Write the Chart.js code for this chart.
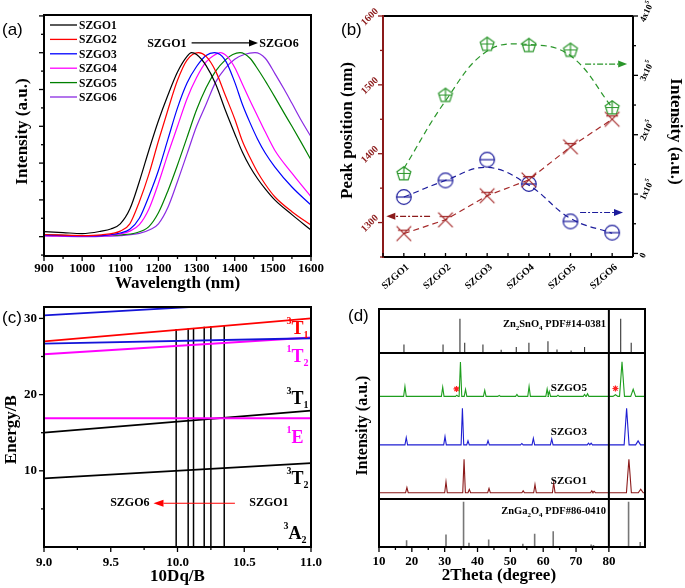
<!DOCTYPE html>
<html><head><meta charset="utf-8">
<script src="https://cdn.jsdelivr.net/npm/chart.js@4.4.1/dist/chart.umd.min.js"></script>
<style>
html,body{margin:0;padding:0;background:#fff;}
#wrap{position:relative;width:685px;height:588px;overflow:hidden;background:#fff;}
canvas{position:absolute;}
</style></head><body>
<div id="wrap">
<canvas id="cA" width="340" height="300" style="left:0px;top:0px"></canvas>
<canvas id="cB" width="345" height="300" style="left:340px;top:0px"></canvas>
<canvas id="cC" width="340" height="298" style="left:0px;top:290px"></canvas>
<canvas id="cD" width="345" height="298" style="left:340px;top:290px"></canvas>
</div>
<script>
// ================= DATA =================
const samples = ['SZGO1','SZGO2','SZGO3','SZGO4','SZGO5','SZGO6'];

// (a) normalized NIR emission spectra
const wlSZGO1 = [900,950,1000,1050,1075,1100,1125,1150,1175,1200,1225,1250,1275,1287,1300,1325,1350,1375,1400,1420,1440,1460,1480,1505,1550,1600];
const inSZGO1 = [0.027,0.022,0.017,0.03,0.042,0.07,0.15,0.30,0.47,0.63,0.77,0.895,0.98,1.0,0.99,0.93,0.83,0.69,0.56,0.46,0.38,0.315,0.26,0.20,0.12,0.036];
const wlSZGO2 = [900,1000,1050,1100,1125,1150,1175,1200,1225,1250,1275,1305,1325,1350,1375,1400,1420,1440,1460,1480,1505,1550,1600];
const inSZGO2 = [0.012,0.006,0.01,0.03,0.07,0.19,0.34,0.52,0.69,0.85,0.96,1.0,0.98,0.90,0.77,0.64,0.52,0.43,0.35,0.285,0.217,0.136,0.063];
const wlSZGO3 = [900,1000,1050,1100,1125,1150,1175,1200,1225,1250,1275,1300,1325,1347,1375,1400,1420,1440,1460,1480,1505,1550,1600];
const inSZGO3 = [0.01,0.004,0.006,0.02,0.04,0.10,0.22,0.36,0.53,0.70,0.835,0.925,0.985,1.0,0.96,0.84,0.72,0.62,0.53,0.455,0.38,0.27,0.172];
const wlSZGO4 = [900,1000,1050,1100,1125,1150,1175,1200,1225,1250,1275,1300,1325,1345,1362,1380,1400,1420,1440,1460,1480,1505,1550,1600];
const inSZGO4 = [0.006,0.002,0.004,0.015,0.03,0.065,0.15,0.29,0.45,0.60,0.75,0.865,0.95,0.985,1.0,0.98,0.92,0.83,0.74,0.655,0.57,0.47,0.345,0.217];
const wlSZGO5 = [900,1000,1050,1100,1140,1175,1200,1225,1250,1275,1300,1325,1350,1375,1395,1414,1440,1462,1485,1505,1530,1550,1575,1600];
const inSZGO5 = [0.012,0.005,0.006,0.01,0.02,0.055,0.13,0.25,0.39,0.54,0.69,0.81,0.90,0.96,0.99,1.0,0.97,0.906,0.83,0.76,0.67,0.60,0.51,0.417];
const wlSZGO6 = [900,1000,1050,1100,1150,1180,1200,1225,1250,1275,1300,1325,1350,1375,1400,1425,1453,1480,1505,1530,1550,1575,1600];
const inSZGO6 = [0.004,0.0,0.002,0.006,0.018,0.04,0.07,0.16,0.30,0.45,0.60,0.72,0.84,0.915,0.965,0.99,1.0,0.97,0.888,0.80,0.725,0.63,0.543];
const waveTicks = [900,1000,1100,1200,1300,1400,1500,1600];

// (b) peak position and intensities
const peakPosition = [1284,1304,1339,1362,1410,1450];
const intensityPent = [1.34e5,2.66e5,3.52e5,3.50e5,3.42e5,2.45e5];
const intensityPentFit = [1.43e5,2.57e5,3.41e5,3.52e5,3.33e5,2.46e5];
const intensityCirc = [0.95e5,1.23e5,1.58e5,1.17e5,0.54e5,0.35e5];
const intensityCircFit = [0.95e5,1.23e5,1.45e5,1.15e5,0.59e5,0.34e5];
const peakTicks = [1300,1400,1500,1600];
const intensityTicks = [0,1e5,2e5,3e5,4e5];

// (c) Tanabe-Sugano diagram
const dqRange = [9.0,11.0];
const lvlBlueTop = [30.4,32.4];
const lvl3T1a = [27.0,30.0];
const lvlBlueMid = [26.7,27.4];
const lvl1T2 = [25.3,27.5];
const lvl1E = [16.9,16.9];
const lvl3T1 = [15.0,17.9];
const lvl3T2 = [9.0,11.0];
const sampleDq = [9.99,10.08,10.12,10.20,10.25,10.35];
const sampleDqTop = [28.6,28.7,28.75,28.9,29.0,29.1];
const dqTicks = [9.0,9.5,10.0,10.5,11.0];
const energyTicks = [10,20,30];

// (d) XRD
const thetaTicks = [10,20,30,40,50,60,70,80];
const zsoPos = [17.6,29.5,34.65,36.1,41.65,47.2,51.8,55.65,61.45,64.2,68.5,72.6,83.6,86.8];
const zsoHt  = [3.6,3.6,14.4,4.3,3.6,1.4,2.5,4.3,5.0,1.5,1.1,2.5,14.4,4.3];
const zgoPos = [18.4,30.4,35.75,37.4,43.4,53.8,57.4,63.05,74.6,75.3,86.0,89.55];
const zgoHt  = [2.8,5.2,19.0,1.8,3.2,1.4,5.6,6.6,1.1,0.8,19.0,2.1];
const s5Pos = [17.9,29.4,33.7,34.8,36.35,42.2,46.6,52.0,55.7,61.2,61.85,64.5,72.6,73.5,82.0,84.0,87.4];
const s5Ht  = [4.2,3.9,0.5,14.4,2.9,2.5,0.4,0.8,4.2,3.1,2.1,0.5,0.8,1.1,0.7,14.5,3.0];
const s3Pos = [18.3,30.1,35.4,37.1,43.2,53.5,57.0,62.6,73.8,74.6,85.4,88.9];
const s3Ht  = [3.1,3.5,15.4,1.7,1.8,0.6,2.8,2.5,0.7,0.7,15.4,1.7];
const s1Pos = [18.5,30.4,35.9,37.5,43.5,53.9,57.5,63.2,74.8,75.5,86.1,89.7];
const s1Ht  = [2.2,4.6,14.1,1.4,1.8,0.8,3.5,4.2,0.8,0.6,14.1,1.5];
const traceBase = [63.3,42.9,22.8];      // SZGO5, SZGO3, SZGO1 offsets
const refBase = [81.5,0];                // Zn2SnO4 top box, ZnGa2O4 bottom box
const impurityPos = [33.6,82.0];
const impurityY = [66.4,66.6];

// ================= HELPERS =================
const SERIF='"Liberation Serif","Times New Roman",serif';
const SANS='"Liberation Sans",Arial,sans-serif';
const F=(s,b=true,fam=SERIF)=>(b?'bold ':'')+s+'px '+fam;
function T(c,s,x,y,font,color='#000',align='center',base='middle',rot=0){c.save();c.translate(x,y);if(rot)c.rotate(rot);c.font=font;c.fillStyle=color;c.textAlign=align;c.textBaseline=base;c.fillText(s,0,0);c.restore();}
function L(c,x1,y1,x2,y2,color='#000',w=1,dash=[]){c.save();c.strokeStyle=color;c.lineWidth=w;c.setLineDash(dash);c.beginPath();c.moveTo(x1,y1);c.lineTo(x2,y2);c.stroke();c.restore();}
function frame(c,a,w=2,col='#000'){c.save();c.strokeStyle=col;c.lineWidth=w;c.strokeRect(a.left,a.top,a.right-a.left,a.bottom-a.top);c.restore();}
function xTicks(c,sc,yb,vals,len,col='#000',w=1.3){vals.forEach(v=>{const x=sc.getPixelForValue(v);L(c,x,yb,x,yb+len,col,w);});}
function yTicks(c,sc,xe,vals,len,col='#000',w=1.3){vals.forEach(v=>{const y=sc.getPixelForValue(v);L(c,xe,y,xe+len,y,col,w);});}
function rich(c,x,y,parts,color='#000',align='left'){
  c.save();c.fillStyle=color;c.textBaseline='alphabetic';c.textAlign='left';
  let w=0;parts.forEach(p=>{c.font=F(p[1]);w+=c.measureText(p[0]).width;});
  let cx=align==='right'?x-w:(align==='center'?x-w/2:x);
  parts.forEach(p=>{c.font=F(p[1]);c.fillText(p[0],cx,y+(p[2]||0));cx+=c.measureText(p[0]).width;});
  c.restore();
}
function arrow(c,x1,y1,x2,y2,color,lw,dash,hl,hw){
  c.save();c.strokeStyle=color;c.fillStyle=color;c.lineWidth=lw;c.setLineDash(dash||[]);
  const ang=Math.atan2(y2-y1,x2-x1);const bx=x2-hl*Math.cos(ang),by=y2-hl*Math.sin(ang);
  c.beginPath();c.moveTo(x1,y1);c.lineTo(bx,by);c.stroke();c.setLineDash([]);
  c.beginPath();c.moveTo(x2,y2);c.lineTo(bx+hw*Math.sin(ang),by-hw*Math.cos(ang));c.lineTo(bx-hw*Math.sin(ang),by+hw*Math.cos(ang));c.closePath();c.fill();c.restore();
}
function marker(kind,color){
  const cv=document.createElement('canvas');cv.width=cv.height=18;const g=cv.getContext('2d');
  g.strokeStyle=color;g.lineWidth=1.2;const cx=9,cy=9,r=7.3;
  if(kind==='pent'){g.beginPath();for(let k=0;k<5;k++){const an=-Math.PI/2+k*2*Math.PI/5;g.lineTo(cx+r*Math.cos(an),cy+r*Math.sin(an));}g.closePath();g.stroke();
    g.beginPath();g.moveTo(cx,cy-r);g.lineTo(cx,cy+r*0.8);g.moveTo(cx-r*0.9,cy-0.5);g.lineTo(cx+r*0.9,cy-0.5);g.stroke();}
  else if(kind==='circ'){g.beginPath();g.arc(cx,cy,r,0,Math.PI*2);g.stroke();g.beginPath();g.moveTo(cx-r,cy);g.lineTo(cx+r,cy);g.stroke();}
  else {g.beginPath();g.moveTo(cx-r,cy-r);g.lineTo(cx+r,cy+r);g.moveTo(cx+r,cy-r);g.lineTo(cx-r,cy+r);g.moveTo(cx-r*0.8,cy-r*0.45);g.lineTo(cx+r*0.8,cy-r*0.45);g.stroke();}
  return cv;
}
function sticks(pos,ht,base){const d=[];pos.forEach((p,i)=>{d.push({x:p,y:base},{x:p,y:base+ht[i]},{x:p,y:null});});return d;}
function pattern(pos,ht,base){const d=[{x:10,y:base}];pos.forEach((p,i)=>{const w=p>80?0.75:0.4;d.push({x:p-w,y:base},{x:p,y:base+ht[i]},{x:p+w,y:base});});d.push({x:91,y:base});return d;}
const noAxis=(min,max,type,size)=>({type:'linear',min,max,ticks:{display:false},grid:{display:false},border:{display:false},
  afterFit(s){if(type==='h')s.height=size;else s.width=size;}});
const common={responsive:false,animation:false,devicePixelRatio:1,plugins:{legend:{display:false},tooltip:{enabled:false}}};

// ================= (a) =================
const colorsA=['#000000','#ff0000','#0000ff','#ff00ff','#008000','#8a2be2'];
const specX=[wlSZGO1,wlSZGO2,wlSZGO3,wlSZGO4,wlSZGO5,wlSZGO6];
const specY=[inSZGO1,inSZGO2,inSZGO3,inSZGO4,inSZGO5,inSZGO6];
new Chart(document.getElementById('cA'),{type:'line',
  data:{datasets:samples.map((s,i)=>({label:s,data:specX[i].map((x,j)=>({x,y:specY[i][j]})),borderColor:colorsA[i],borderWidth:1.2,pointRadius:0,cubicInterpolationMode:'monotone',fill:false}))},
  options:{...common,layout:{padding:{top:15,right:29,left:0,bottom:0}},
    scales:{x:noAxis(900,1600,'h',44),y:noAxis(-0.105,1.205,'v',44)}},
  plugins:[{id:'decoA',afterDraw(ch){const c=ch.ctx,a=ch.chartArea,x=ch.scales.x,y=ch.scales.y;
    frame(c,a,2);
    const yMaj=[],yMin=[];for(let k=-1;k<=12;k++){(k%2===0?yMaj:yMin).push(k/10);}
    yTicks(c,y,a.left,yMaj,-5);yTicks(c,y,a.left,yMin,-3);
    const xMaj=[],xMin=[];for(let v=900;v<=1600;v+=50){(v%100===0?xMaj:xMin).push(v);}
    xTicks(c,x,a.bottom,xMaj,5);xTicks(c,x,a.bottom,xMin,3);
    waveTicks.forEach(v=>T(c,String(v),x.getPixelForValue(v),a.bottom+13,F(13)));
    T(c,'Wavelength (nm)',(a.left+a.right)/2,a.bottom+28,F(17));
    T(c,'Intensity (a.u.)',23,(a.top+a.bottom)/2-4,F(17),'#000','center','middle',-Math.PI/2);
    T(c,'(a)',2,30,F(17,false,SANS),'#000','left');
    samples.forEach((s,i)=>{const yy=25+14.4*i;L(c,50,yy,77,yy,colorsA[i],1.3);T(c,s,79,yy+1,F(11.5),'#000','left');});
    const ay=y.getPixelForValue(1.053);
    T(c,'SZGO1',x.getPixelForValue(1222),ay+1,F(12));
    arrow(c,x.getPixelForValue(1287),ay,x.getPixelForValue(1461),ay,'#000',1.2,[],9,3.5);
    T(c,'SZGO6',x.getPixelForValue(1516),ay+1,F(12));
  }}]});

// ================= (b) =================
const DR='#8b1a1a', GB='#2a962a', BB='#1c1c9c', RB='#a52a2a';
const idx=samples.map((s,i)=>i);
new Chart(document.getElementById('cB'),{type:'line',
  data:{datasets:[
    {data:idx.map(i=>({x:i,y:peakPosition[i]})),yAxisID:'yL',borderColor:RB,borderWidth:1.2,borderDash:[6,4],pointStyle:marker('x',RB),pointRadius:7,tension:0},
    {data:idx.map(i=>({x:i,y:intensityPentFit[i]})),yAxisID:'yR',borderColor:GB,borderWidth:1.2,borderDash:[6,4],pointRadius:0,tension:0.4},
    {data:idx.map(i=>({x:i,y:intensityPent[i]})),yAxisID:'yR',showLine:false,pointStyle:marker('pent',GB),pointRadius:7},
    {data:idx.map(i=>({x:i,y:intensityCircFit[i]})),yAxisID:'yR',borderColor:BB,borderWidth:1.2,borderDash:[6,4],pointRadius:0,tension:0.4},
    {data:idx.map(i=>({x:i,y:intensityCirc[i]})),yAxisID:'yR',showLine:false,pointStyle:marker('circ',BB),pointRadius:7}
  ]},
  options:{...common,layout:{padding:{top:16,right:0,left:0,bottom:0}},
    scales:{x:noAxis(-0.5,5.5,'h',43),yL:{...noAxis(1250,1600,'v',43),position:'left'},yR:{...noAxis(-6000,400000,'v',52),position:'right'}}},
  plugins:[{id:'decoB',afterDraw(ch){const c=ch.ctx,a=ch.chartArea,x=ch.scales.x,yl=ch.scales.yL,yr=ch.scales.yR;
    L(c,a.left,a.top,a.right,a.top,'#000',2);L(c,a.right,a.top,a.right,a.bottom,'#000',2);L(c,a.left,a.bottom,a.right,a.bottom,'#000',2);L(c,a.left,a.top-1,a.left,a.bottom+1,DR,2);
    yTicks(c,yl,a.left,peakTicks,-5,DR);yTicks(c,yl,a.left,[1250,1350,1450,1550],-3,DR);
    peakTicks.forEach(v=>T(c,String(v),a.left-13,yl.getPixelForValue(v)+1,F(10),DR,'center','middle',-Math.PI/4));
    yTicks(c,yr,a.right,intensityTicks,5);yTicks(c,yr,a.right,[0.5e5,1.5e5,2.5e5,3.5e5],3);
    intensityTicks.forEach(v=>{const py=yr.getPixelForValue(v);const n=Math.round(v/1e5);
      c.save();c.translate(a.right+(n?14:10),py+(n?-4:2));c.rotate(-1.13);c.fillStyle='#000';c.textBaseline='middle';
      if(!n){c.font=F(9);c.textAlign='center';c.fillText('0',0,0);}
      else{const m=n+'x10';c.font=F(9);const w1=c.measureText(m).width;c.font=F(6);const w2=c.measureText('5').width;const x0=-(w1+w2)/2;
        c.font=F(9);c.textAlign='left';c.fillText(m,x0,0);c.font=F(6);c.fillText('5',x0+w1,-4);}
      c.restore();});
    for(let k=-1;k<=11;k++){const px=x.getPixelForValue(k/2);L(c,px,a.bottom,px,a.bottom-4,'#000',1.3);}
    samples.forEach((s,i)=>T(c,s,x.getPixelForValue(i)+4,a.bottom+9,F(10),'#000','right','middle',-0.72));
    T(c,'Peak position (nm)',8,(a.top+a.bottom)/2-6,F(17),'#000','center','middle',-Math.PI/2);
    T(c,'Intensity (a.u.)',335,(a.top+a.bottom)/2-5,F(17),'#000','center','middle',Math.PI/2);
    T(c,'(b)',1,30,F(17,false,SANS),'#000','left');
    arrow(c,x.getPixelForValue(0.63),yl.getPixelForValue(1309),x.getPixelForValue(-0.42),yl.getPixelForValue(1309),DR,1.2,[6,2,2,2],9,3.5);
    arrow(c,x.getPixelForValue(4.23),yr.getPixelForValue(0.69e5),x.getPixelForValue(5.26),yr.getPixelForValue(0.69e5),BB,1.2,[6,2,2,2],9,3.5);
    arrow(c,x.getPixelForValue(4.35),yr.getPixelForValue(3.19e5),x.getPixelForValue(5.36),yr.getPixelForValue(3.19e5),GB,1.2,[6,2,2,2],9,3.5);
  }}]});

// ================= (c) =================
const lv=(arr,col)=>({data:dqRange.map((x,i)=>({x,y:arr[i]})),borderColor:col,borderWidth:1.8,pointRadius:0,tension:0});
const dsC=[lv(lvlBlueTop,'#1414d8'),lv(lvl3T1a,'#ff0000'),lv(lvlBlueMid,'#1414d8'),lv(lvl1T2,'#ff00ff'),lv(lvl1E,'#ff00ff'),lv(lvl3T1,'#000'),lv(lvl3T2,'#000')];
sampleDq.forEach((d,i)=>dsC.push({data:[{x:d,y:0},{x:d,y:sampleDqTop[i]}],borderColor:'#000',borderWidth:1.5,pointRadius:0}));
new Chart(document.getElementById('cC'),{type:'line',data:{datasets:dsC},
  options:{...common,layout:{padding:{top:17,right:29,left:0,bottom:0}},
    scales:{x:noAxis(9,11,'h',41),y:noAxis(0,31.5,'v',44)}},
  plugins:[{id:'decoC',afterDraw(ch){const c=ch.ctx,a=ch.chartArea,x=ch.scales.x,y=ch.scales.y;
    frame(c,a,2);
    yTicks(c,y,a.left,energyTicks,-5);yTicks(c,y,a.left,[5,15,25],-3);
    energyTicks.forEach(v=>T(c,String(v),a.left-7,y.getPixelForValue(v),F(13),'#000','right'));
    xTicks(c,x,a.bottom,dqTicks,5);xTicks(c,x,a.bottom,[9.25,9.75,10.25,10.75],3);
    dqTicks.forEach(v=>T(c,v.toFixed(1),x.getPixelForValue(v),a.bottom+16,F(13)));
    T(c,'10Dq/B',(a.left+a.right)/2,a.bottom+30,F(17));
    T(c,'Energy/B',12,y.getPixelForValue(15.4),F(17),'#000','center','middle',-Math.PI/2);
    T(c,'(c)',2,28,F(17,false,SANS),'#000','left');
    const lx=x.getPixelForValue(10.816);
    rich(c,lx,y.getPixelForValue(28.0),[['3',10,-10],['T',18],['1',10,4]],'#ff0000');
    rich(c,lx,y.getPixelForValue(24.3),[['1',10,-10],['T',18],['2',10,4]],'#ff00ff');
    rich(c,lx,y.getPixelForValue(18.8),[['3',10,-10],['T',18],['1',10,4]],'#000');
    rich(c,lx,y.getPixelForValue(13.7),[['1',10,-10],['E',18]],'#ff00ff');
    rich(c,lx,y.getPixelForValue(8.3),[['3',10,-10],['T',18],['2',10,4]],'#000');
    rich(c,lx-3,y.getPixelForValue(1.1),[['3',10,-10],['A',18],['2',10,4]],'#000');
    const ay=y.getPixelForValue(5.74);
    T(c,'SZGO6',x.getPixelForValue(9.643),ay,F(12));
    arrow(c,x.getPixelForValue(10.43),ay,x.getPixelForValue(9.82),ay,'#ff0000',1.2,[],10,3.5);
    T(c,'SZGO1',x.getPixelForValue(10.685),ay,F(12));
  }}]});

// ================= (d) =================
const dsD=[
  {data:sticks(zsoPos,zsoHt,refBase[0]),borderColor:'#333',borderWidth:1.1,pointRadius:0,spanGaps:false},
  {data:sticks(zgoPos,zgoHt,refBase[1]),borderColor:'#777',borderWidth:1.6,pointRadius:0,spanGaps:false},
  {data:pattern(s5Pos,s5Ht,traceBase[0]),borderColor:'#1e9e1e',borderWidth:1.1,pointRadius:0},
  {data:pattern(s3Pos,s3Ht,traceBase[1]),borderColor:'#1e1ed2',borderWidth:1.1,pointRadius:0},
  {data:pattern(s1Pos,s1Ht,traceBase[2]),borderColor:'#8b1a1a',borderWidth:1.1,pointRadius:0},
  {data:impurityPos.map((p,i)=>({x:p,y:impurityY[i]})),showLine:false,pointStyle:'star',pointRadius:3,borderColor:'#ff2020',borderWidth:1.2}
];
new Chart(document.getElementById('cD'),{type:'line',data:{datasets:dsD},
  options:{...common,layout:{padding:{top:19,right:40,left:0,bottom:0}},
    scales:{x:noAxis(10,91,'h',41),y:noAxis(0,100,'v',39)}},
  plugins:[{id:'decoD',afterDraw(ch){const c=ch.ctx,a=ch.chartArea,x=ch.scales.x,y=ch.scales.y;
    frame(c,a,2);
    refBase.slice(0,1).concat([20.2]).forEach(v=>{const py=y.getPixelForValue(v);L(c,a.left,py,a.right,py,'#000',2);});
    const x80=x.getPixelForValue(80);L(c,x80,a.top,x80,a.bottom,'#000',2);
    xTicks(c,x,a.bottom,thetaTicks,5);xTicks(c,x,a.bottom,[15,25,35,45,55,65,75],3);
    thetaTicks.forEach(v=>T(c,String(v),x.getPixelForValue(v),a.bottom+15,F(13)));
    T(c,'2Theta (degree)',x.getPixelForValue(46.5),a.bottom+29,F(17));
    T(c,'Intensity (a.u.)',23,y.getPixelForValue(51),F(16),'#000','center','middle',-Math.PI/2);
    T(c,'(d)',8,26,F(17,false,SANS),'#000','left');
    rich(c,x80-3,y.getPixelForValue(92.6),[['Zn',10.5],['2',7,3],['SnO',10.5],['4',7,3],[' PDF#14-0381',10.5]],'#000','right');
    rich(c,x80-3,y.getPixelForValue(13.9),[['ZnGa',10.5],['2',7,3],['O',10.5],['4',7,3],[' PDF#86-0410',10.5]],'#000','right');
    [['SZGO5',66.8],['SZGO3',48.3],['SZGO1',27.7]].forEach(t=>T(c,t[0],x80-22,y.getPixelForValue(t[1]),F(11),'#000','right'));
  }}]});
</script>
</body></html>
